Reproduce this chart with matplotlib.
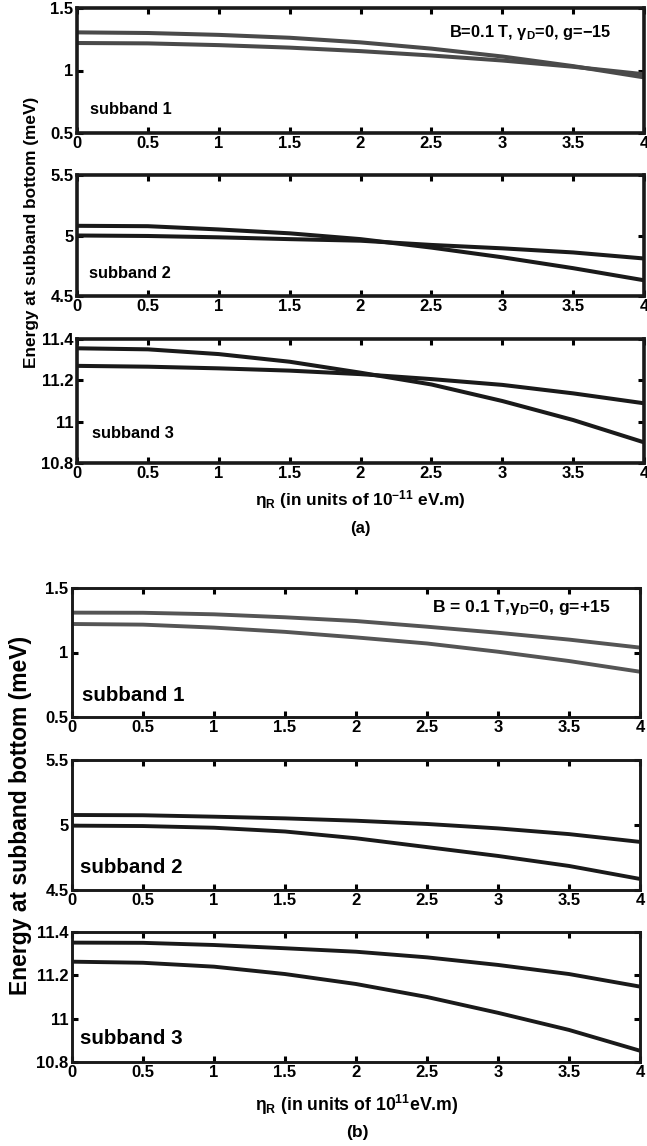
import numpy as np
import matplotlib
matplotlib.use('Agg')
from matplotlib import pyplot as plt
from matplotlib import font_manager
from matplotlib.ticker import FormatStrFormatter

# pick a narrow bold sans if there is one
fam = 'Liberation Sans'
try:
    font_manager.findfont('Liberation Sans Narrow', fallback_to_default=False)
    fam = 'Liberation Sans Narrow'
except Exception:
    pass
plt.rcParams['font.family'] = [fam, 'DejaVu Sans']
plt.rcParams['font.weight'] = 'bold'
plt.rcParams['mathtext.fontset'] = 'custom'
plt.rcParams['mathtext.rm'] = fam + ':bold'
plt.rcParams['mathtext.it'] = fam + ':bold'
plt.rcParams['mathtext.bf'] = fam + ':bold'

# eta_R values (units of 1e-11 eV.m)
eta = [0, 0.5, 1, 1.5, 2, 2.5, 3, 3.5, 4]

# (a) g = -15
a1_up = [1.305, 1.300, 1.285, 1.262, 1.225, 1.175, 1.112, 1.035, 0.945]
a1_lo = [1.220, 1.217, 1.203, 1.183, 1.155, 1.120, 1.080, 1.030, 0.970]
a2_up = [5.080, 5.077, 5.050, 5.018, 4.970, 4.900, 4.820, 4.730, 4.630]
a2_lo = [5.000, 4.996, 4.985, 4.970, 4.957, 4.922, 4.894, 4.860, 4.810]
a3_up = [11.355, 11.350, 11.327, 11.290, 11.237, 11.180, 11.100, 11.008, 10.900]
a3_lo = [11.270, 11.266, 11.258, 11.247, 11.230, 11.206, 11.178, 11.137, 11.089]

# (b) g = +15
b1_up = [1.309, 1.308, 1.296, 1.273, 1.244, 1.200, 1.153, 1.100, 1.038]
b1_lo = [1.221, 1.216, 1.193, 1.160, 1.117, 1.070, 1.006, 0.934, 0.851]
b2_up = [5.077, 5.075, 5.064, 5.051, 5.033, 5.008, 4.974, 4.930, 4.870]
b2_lo = [4.995, 4.992, 4.979, 4.950, 4.898, 4.830, 4.762, 4.685, 4.585]
b3_up = [11.351, 11.350, 11.340, 11.325, 11.309, 11.283, 11.248, 11.206, 11.148]
b3_lo = [11.263, 11.258, 11.240, 11.206, 11.160, 11.100, 11.027, 10.948, 10.852]

xticks = [0, 0.5, 1, 1.5, 2, 2.5, 3, 3.5, 4]
ylims = [(0.5, 1.5), (4.5, 5.5), (10.8, 11.4)]
yticks = [[0.5, 1, 1.5], [4.5, 5, 5.5], [10.8, 11, 11.2, 11.4]]

W, H = 647, 1146
fig = plt.figure(figsize=(W / 100, H / 100), dpi=100)

def box(x0, x1, y0, y1):
    # pixel box -> figure fraction
    return [x0 / W, 1 - y1 / H, (x1 - x0) / W, (y1 - y0) / H]

pos_a = [(77, 644, 8, 133), (77, 644, 175, 296), (77, 644, 339, 463)]
pos_b = [(72, 640, 588, 717), (72, 640, 760, 890), (72, 640, 932, 1062)]

def style(ax, i, spw):
    ax.set_xlim(0, 4)
    ax.set_ylim(*ylims[i])
    ax.set_xticks(xticks)
    ax.set_yticks(yticks[i])
    ax.xaxis.set_major_formatter(FormatStrFormatter('%g'))
    ax.yaxis.set_major_formatter(FormatStrFormatter('%g'))
    ax.tick_params(direction='in', top=True, right=True, length=4, width=2.2,
                   labelsize=12, pad=2.5)
    for lab in ax.get_xticklabels() + ax.get_yticklabels():
        lab.set_fontweight('bold')
    for s in ax.spines.values():
        s.set_linewidth(spw)
        s.set_color('#1a1a1a')

gray_a = '#4a4a4a'
gray_b = '#555555'
dark = '#1a1a1a'
MINUS = '\u2212'

# ---- panel (a)
data_a = [(a1_up, a1_lo), (a2_up, a2_lo), (a3_up, a3_lo)]
axa = []
for i in range(3):
    ax = fig.add_axes(box(*pos_a[i]))
    c = gray_a if i == 0 else dark
    ax.plot(eta, data_a[i][0], color=c, lw=2.9, solid_capstyle='butt')
    ax.plot(eta, data_a[i][1], color=c, lw=2.9, solid_capstyle='butt')
    style(ax, i, 2.6)
    axa.append(ax)
axa[0].text(0.023, 0.19, 'subband 1', transform=axa[0].transAxes, fontsize=11.8, va='center')
axa[1].text(0.021, 0.19, 'subband 2', transform=axa[1].transAxes, fontsize=11.8, va='center')
axa[2].text(0.026, 0.234, 'subband 3', transform=axa[2].transAxes, fontsize=11.8, va='center')
axa[0].text(0.656, 0.80, r'B=0.1 T, $\mathrm{\gamma_D}$=0, g=' + MINUS + '15',
            transform=axa[0].transAxes, fontsize=11.8, va='center')
fig.text(32 / W, 1 - 232 / H, 'Energy at subband bottom (meV)', rotation=90,
         ha='center', va='center', fontsize=12.4)
fig.text(360 / W, 1 - 500 / H, r'$\mathrm{\eta_R}$ (in units of 10$^{\mathrm{' + MINUS + r'11}}$ eV.m)',
         ha='center', va='center', fontsize=12.4)
fig.text(360 / W, 1 - 528 / H, '(a)', ha='center', va='center', fontsize=12)

# ---- panel (b)
data_b = [(b1_up, b1_lo), (b2_up, b2_lo), (b3_up, b3_lo)]
axb = []
for i in range(3):
    ax = fig.add_axes(box(*pos_b[i]))
    c = gray_b if i == 0 else dark
    ax.plot(eta, data_b[i][0], color=c, lw=2.8, solid_capstyle='butt')
    ax.plot(eta, data_b[i][1], color=c, lw=2.8, solid_capstyle='butt')
    style(ax, i, 2.1)
    axb.append(ax)
axb[0].text(0.018, 0.163, 'subband 1', transform=axb[0].transAxes, fontsize=14.8, va='center')
axb[1].text(0.014, 0.17, 'subband 2', transform=axb[1].transAxes, fontsize=14.8, va='center')
axb[2].text(0.014, 0.177, 'subband 3', transform=axb[2].transAxes, fontsize=14.8, va='center')
axb[0].text(0.634, 0.845, r'B = 0.1 T,$\mathrm{\gamma_D}$=0, g=+15',
            transform=axb[0].transAxes, fontsize=12.6, va='center')
fig.text(21 / W, 1 - 815 / H, 'Energy at subband bottom (meV)', rotation=90,
         ha='center', va='center', fontsize=16.5)
fig.text(357 / W, 1 - 1105 / H, r'$\mathrm{\eta_R}$ (in units of 10$^{\mathrm{11}}$eV.m)',
         ha='center', va='center', fontsize=12.7)
fig.text(357 / W, 1 - 1132 / H, '(b)', ha='center', va='center', fontsize=12.5)

fig.savefig('out.png', dpi=100)
